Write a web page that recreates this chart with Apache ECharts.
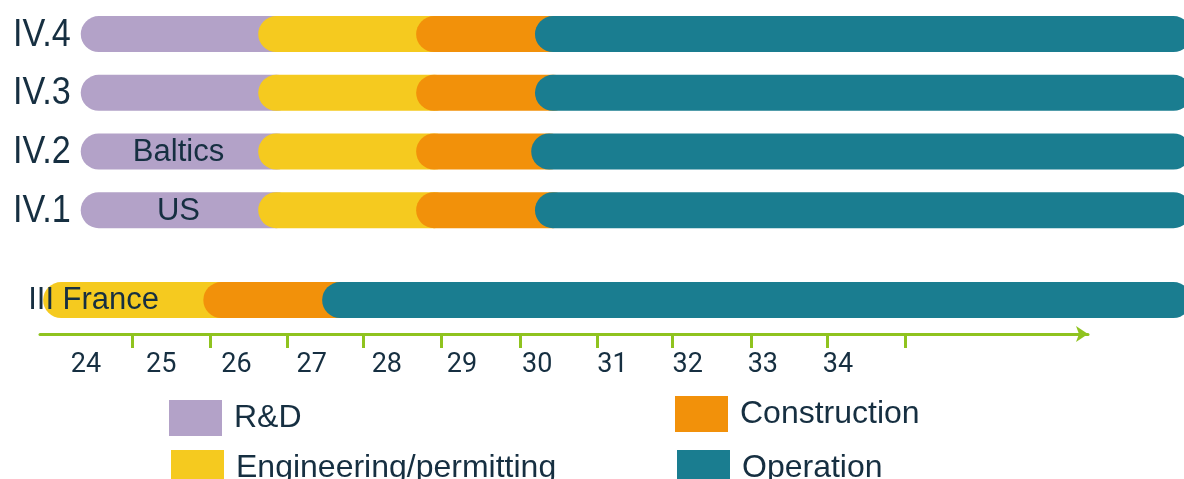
<!DOCTYPE html>
<html>
<head>
<meta charset="utf-8">
<script src="https://cdn.jsdelivr.net/npm/echarts@6/dist/echarts.min.js"></script>
<style>
  html, body { margin: 0; padding: 0; background: #fff; }
  #main { width: 1184px; height: 479px; }
</style>
</head>
<body>
<div id="main"></div>
<script>
// 数据
var rowNames = ['III France', 'IV.1', 'IV.2', 'IV.3', 'IV.4'];
var rowPos = [0, 1.53, 2.53, 3.53, 4.53];
var rowNotes = ['', 'US', 'Baltics', '', ''];
var phases = ['R&D', 'Engineering/permitting', 'Construction', 'Operation'];
// 各阶段开始年份 (France 没有 R&D)
var rdStart = [null, 23.93, 23.93, 23.93, 23.93];
var engStart = [23.43, 26.29, 26.29, 26.29, 26.29];
var conStart = [25.56, 28.39, 28.39, 28.39, 28.39];
var opStart = [27.14, 29.97, 29.92, 29.97, 29.97];
var opEnd = [38.7, 38.7, 38.7, 38.7, 38.7];
var yearLabels = [24, 25, 26, 27, 28, 29, 30, 31, 32, 33, 34];
var tickYears = [24.61, 25.65, 26.68, 27.69, 28.73, 29.77, 30.8, 31.8, 32.84, 33.85, 34.89];

var colors = ['#b3a2c8', '#f5ca1f', '#f2910a', '#1a7d90'];
var textColor = '#162f41';
var barH = 36;

(function () {
  var myChart = echarts.init(document.getElementById('main'));

  var starts = [rdStart, engStart, conStart, opStart];
  // 每个阶段一组数据: [行位置, 开始, 结束, 是否最后一段]
  function phaseData(p) {
    var out = [];
    for (var i = 0; i < rowNames.length; i++) {
      var s = starts[p][i];
      if (s == null) continue;
      var e = p < 3 ? starts[p + 1][i] : opEnd[i];
      out.push([rowPos[i], s, e, p === 3 ? 1 : 0]);
    }
    return out;
  }

  function renderBar(params, api) {
    var s = api.coord([api.value(1), api.value(0)]);
    var e = api.coord([api.value(2), api.value(0)]);
    // 前一段伸到下一段的圆头下面
    var w = e[0] - s[0] + (api.value(3) ? 0 : barH);
    return {
      type: 'rect',
      shape: { x: s[0], y: s[1] - barH / 2, width: w, height: barH, r: barH / 2 },
      style: { fill: api.visual('color') }
    };
  }

  var series = phases.map(function (name, p) {
    return {
      name: name,
      type: 'custom',
      renderItem: renderBar,
      itemStyle: { color: colors[p] },
      encode: { x: [1, 2], y: 0 },
      data: phaseData(p),
      silent: true
    };
  });

  // 行标签
  var labelData = rowNames.map(function (n, i) {
    return [rowPos[i], rdStart[i] == null ? engStart[i] : rdStart[i], engStart[i]];
  });
  series.push({
    type: 'custom',
    silent: true,
    z: 5,
    encode: { x: 1, y: 0 },
    data: labelData,
    renderItem: function (params, api) {
      var i = params.dataIndex;
      var a = api.coord([api.value(1), api.value(0)]);
      var b = api.coord([api.value(2), api.value(0)]);
      var kids = [];
      if (rdStart[i] == null) {
        kids.push({
          type: 'text',
          style: {
            x: a[0] - 15, y: a[1], text: rowNames[i], fill: textColor,
            font: '31px "Liberation Sans"', align: 'left', verticalAlign: 'middle'
          }
        });
      } else {
        // 窄一点的字
        kids.push({
          type: 'text',
          x: a[0] - 10, y: a[1] + 1, scaleX: 0.9,
          style: {
            x: 0, y: 0, text: rowNames[i], fill: textColor,
            font: '38px "Liberation Sans"', align: 'right', verticalAlign: 'middle'
          }
        });
      }
      if (rowNotes[i]) {
        kids.push({
          type: 'text',
          style: {
            x: (a[0] + b[0]) / 2 + 9, y: a[1] + 1, text: rowNotes[i], fill: textColor,
            font: '31px "Liberation Sans"', align: 'center', verticalAlign: 'middle'
          }
        });
      }
      return { type: 'group', children: kids };
    }
  });

  var legendText = {
    color: textColor,
    fontSize: 32,
    fontFamily: 'Liberation Sans',
    padding: [0, 0, 0, 7]
  };
  var legendPos = [[164, 395], [166, 445], [670, 391], [672, 445]];
  var legends = phases.map(function (name, p) {
    return {
      data: [name],
      left: legendPos[p][0], top: legendPos[p][1],
      icon: 'rect', itemWidth: 53, itemHeight: 36,
      textStyle: legendText, selectedMode: false
    };
  });

  var option = {
    animation: false,
    grid: { left: 40, right: 96, top: 0, bottom: 145 },
    legend: legends,
    xAxis: {
      type: 'value',
      min: 23.388,
      max: 37.324,
      splitLine: { show: false },
      axisLine: {
        show: true,
        onZero: false,
        symbol: ['none', 'arrow'],
        symbolSize: [12, 12],
        lineStyle: { color: '#8fc31f', width: 3 }
      },
      axisTick: {
        show: true,
        customValues: tickYears,
        length: 14,
        lineStyle: { color: '#8fc31f', width: 3 }
      },
      axisLabel: {
        customValues: yearLabels,
        margin: 18,
        color: textColor,
        fontSize: 27,
        fontFamily: 'Roboto'
      }
    },
    yAxis: {
      type: 'value',
      min: -0.579,
      max: 5.111,
      show: false
    },
    series: series
  };

  myChart.setOption(option);
})();
</script>
</body>
</html>
